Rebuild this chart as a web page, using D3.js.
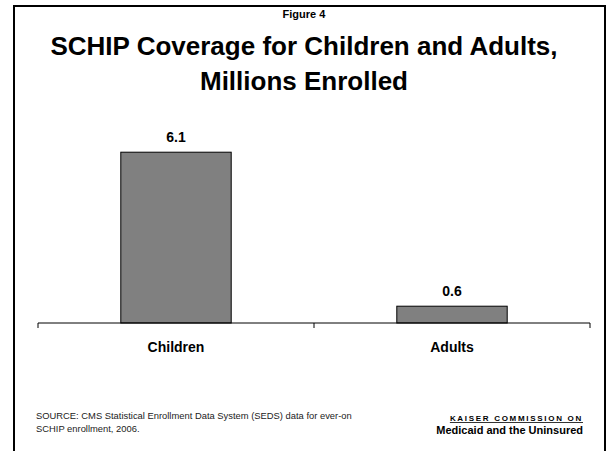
<!DOCTYPE html>
<html>
<head>
<meta charset="utf-8">
<script src="https://cdn.jsdelivr.net/npm/d3@7"></script>
<style>
  body { margin: 0; background: #fff; }
  text { font-family: Arial, "Liberation Sans", sans-serif; }
</style>
</head>
<body>
<svg id="chart" width="608" height="451"></svg>
<script>
const categories = ["Children", "Adults"];
const enrolled = [6.1, 0.6];
const valueLabels = ["6.1", "0.6"];

const svg = d3.select("#chart");

// slide frame (bottom edge runs off the page)
svg.append("path")
   .attr("d", "M14,460 V6 H605 V460")
   .attr("fill", "none")
   .attr("stroke", "#000")
   .attr("stroke-width", 2);

// titles
svg.append("text")
   .attr("x", 304).attr("y", 18)
   .attr("text-anchor", "middle")
   .style("font-family", "'Liberation Sans Narrow', 'Arial Narrow', Arial, sans-serif")
   .style("font-size", "11px").style("font-weight", "bold")
   .text("Figure 4");

let titleLines = ["SCHIP Coverage for Children and Adults,", "Millions Enrolled"];
svg.selectAll(".title")
   .data(titleLines)
   .enter()
   .append("text")
   .attr("class", "title")
   .attr("x", 304)
   .attr("y", (d, i) => 55 + i * 35)
   .attr("text-anchor", "middle")
   .style("font-size", "26px").style("font-weight", "bold")
   .text((d) => d);

// plot
const x = d3.scaleBand().domain(categories).range([38, 590]).paddingInner(0).paddingOuter(0);
const y = d3.scaleLinear().domain([0, 7]).range([323, 127]);
const barW = x.bandwidth() * 0.4;

let rows = d3.zip(categories, enrolled, valueLabels);

svg.selectAll(".bar")
   .data(rows)
   .enter()
   .append("rect")
   .attr("class", "bar")
   .attr("x", (d) => x(d[0]) + (x.bandwidth() - barW) / 2)
   .attr("y", (d) => y(d[1]))
   .attr("width", barW)
   .attr("height", (d) => y(0) - y(d[1]))
   .attr("fill", "#808080")
   .attr("stroke", "#000")
   .attr("stroke-width", 1);

svg.selectAll(".value")
   .data(rows)
   .enter()
   .append("text")
   .attr("class", "value")
   .attr("x", (d) => x(d[0]) + x.bandwidth() / 2)
   .attr("y", (d) => y(d[1]) - 10)
   .attr("text-anchor", "middle")
   .style("font-size", "14px").style("font-weight", "bold")
   .text((d) => d[2]);

// category axis with ticks at category boundaries
let axis = svg.append("g");
axis.append("line")
    .attr("x1", x.range()[0]).attr("x2", x.range()[1])
    .attr("y1", y(0)).attr("y2", y(0))
    .attr("stroke", "#000");
let boundaries = categories.map((c) => x(c)).concat([x.range()[1]]);
axis.selectAll(".tick")
    .data(boundaries)
    .enter()
    .append("line")
    .attr("x1", (d) => d).attr("x2", (d) => d)
    .attr("y1", y(0)).attr("y2", y(0) + 5)
    .attr("stroke", "#000");
axis.selectAll(".cat")
    .data(categories)
    .enter()
    .append("text")
    .attr("x", (d) => x(d) + x.bandwidth() / 2)
    .attr("y", 352)
    .attr("text-anchor", "middle")
    .style("font-size", "14px").style("font-weight", "bold")
    .text((d) => d);

// footer
let source = ["SOURCE: CMS Statistical Enrollment Data System (SEDS) data for ever-on",
              "SCHIP enrollment, 2006."];
svg.selectAll(".source")
   .data(source)
   .enter()
   .append("text")
   .attr("x", 36)
   .attr("y", (d, i) => 419 + i * 13)
   .style("font-size", "9.4px")
   .attr("fill", "#222")
   .text((d) => d);

svg.append("text")
   .attr("x", 583).attr("y", 421)
   .attr("text-anchor", "end")
   .style("font-size", "8px").style("font-weight", "900")
   .style("letter-spacing", "1.7px")
   .style("text-decoration", "underline")
   .text("KAISER COMMISSION ON");
svg.append("text")
   .attr("x", 583).attr("y", 434)
   .attr("text-anchor", "end")
   .style("font-size", "11px").style("font-weight", "bold")
   .text("Medicaid and the Uninsured");
</script>
</body>
</html>
